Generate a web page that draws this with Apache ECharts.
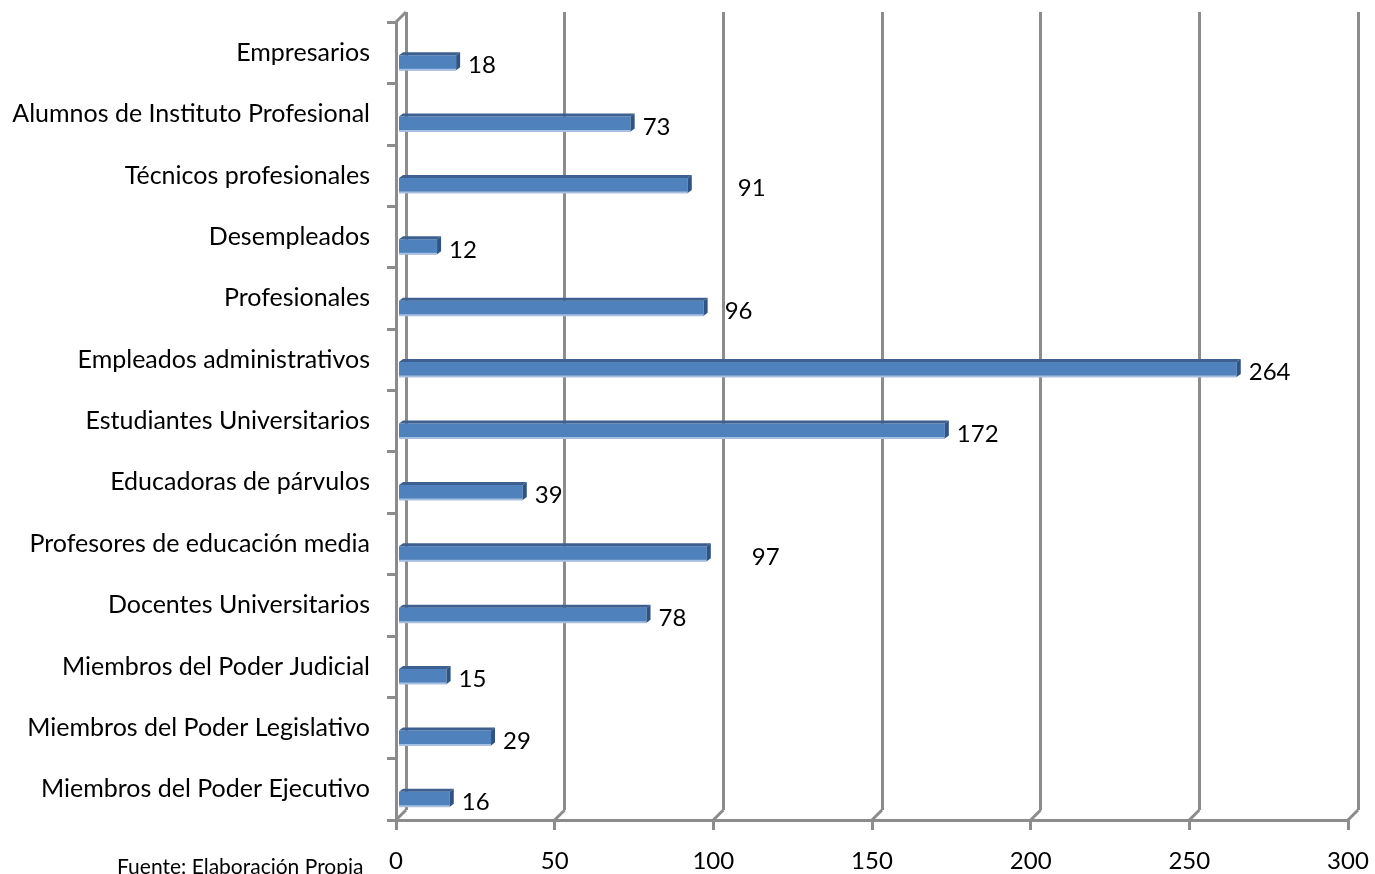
<!DOCTYPE html>
<html>
<head>
<meta charset="utf-8">
<script src="https://cdn.jsdelivr.net/npm/echarts@6/dist/echarts.min.js"></script>
<style>
  html, body { margin: 0; padding: 0; background: #fff; }
  #chart { width: 1375px; height: 874px; }
</style>
</head>
<body>
<div id="chart"></div>
<script>
// Occupational groups, listed top to bottom
const categories = [
  'Empresarios',
  'Alumnos de Instituto Profesional',
  'Técnicos profesionales',
  'Desempleados',
  'Profesionales',
  'Empleados administrativos',
  'Estudiantes Universitarios',
  'Educadoras de párvulos',
  'Profesores de educación media',
  'Docentes Universitarios',
  'Miembros del Poder Judicial',
  'Miembros del Poder Legislativo',
  'Miembros del Poder Ejecutivo'
];
// Number of people in each group
const values = [18, 73, 91, 12, 96, 264, 172, 39, 97, 78, 15, 29, 16];
// Value axis ticks
const axisTicks = [0, 50, 100, 150, 200, 250, 300];
const sourceNote = 'Fuente: Elaboración Propia';

// extra horizontal push for a few value labels that sit further out
const labelNudge = { 2: 38, 4: 9, 8: 33 };

const FONT = 'Lato, "Open Sans", sans-serif';
const GRAY = '#8c8c8c';
const DEPTH_X = 10, DEPTH_Y = 10;

const chart = echarts.init(document.getElementById('chart'), null, { renderer: 'canvas' });

// 3D-look bar: front face, top face, right side face, plus its value label
function renderBar(params, api) {
  const v = api.value(0);
  const idx = api.value(1);
  const p0 = api.coord([0, idx]);
  const p1 = api.coord([v, idx]);
  const cy = p0[1] + 10;          // bars sit a little below the band centre
  const h = 15, d = 4;
  const x0 = p0[0] + 3, x1 = p1[0] + 3;
  const yT = cy - h / 2, yB = cy + h / 2;
  const nudge = labelNudge[idx] || 0;
  return {
    type: 'group',
    children: [
      { type: 'rect', shape: { x: x0, y: yT, width: x1 - x0, height: h },
        style: { fill: '#4f81bd' } },
      { type: 'rect', shape: { x: x0, y: yB - 1.5, width: x1 - x0, height: 2 },
        style: { fill: '#a7bfe0' } },
      { type: 'polygon', shape: { points: [[x0, yT], [x0 + d, yT - d + 1], [x1 + d, yT - d + 1], [x1, yT]] },
        style: { fill: '#3d6090' } },
      { type: 'polygon', shape: { points: [[x1, yT], [x1 + d, yT - d + 1], [x1 + d, yB - d + 1], [x1, yB]] },
        style: { fill: '#2f5385' } },
      { type: 'text', style: {
          text: String(v), x: x1 + d + 8 + nudge, y: cy + 3,
          fill: '#000', fontSize: 24, fontFamily: FONT,
          align: 'left', verticalAlign: 'middle' } }
    ]
  };
}

// floor edges joining front axis ticks to the back wall, plus the top-left wall edge
function renderEdges(params, api) {
  const cs = params.coordSys;
  const v = api.value(0);
  const x = api.coord([v, 0])[0];
  const yb = cs.y + cs.height;
  const children = [
    { type: 'line', shape: { x1: x, y1: yb, x2: x + DEPTH_X, y2: yb - DEPTH_Y },
      style: { stroke: GRAY, lineWidth: 3 } }
  ];
  if (v === 0) {
    children.push({ type: 'line', shape: { x1: x, y1: cs.y, x2: x + DEPTH_X, y2: cs.y - DEPTH_Y },
      style: { stroke: GRAY, lineWidth: 3 } });
  }
  return { type: 'group', children };
}

const frontGrid = { left: 396, right: 27, top: 22, bottom: 54 };
const backGrid = {
  left: frontGrid.left + DEPTH_X, right: frontGrid.right - DEPTH_X,
  top: frontGrid.top - DEPTH_Y, bottom: frontGrid.bottom + DEPTH_Y
};

chart.setOption({
  animation: false,
  backgroundColor: '#ffffff',
  grid: [frontGrid, backGrid],
  xAxis: [
    {
      gridIndex: 0, type: 'value', min: axisTicks[0], max: axisTicks[axisTicks.length - 1],
      interval: axisTicks[1] - axisTicks[0],
      axisLine: { show: true, lineStyle: { color: GRAY, width: 3 } },
      axisTick: { show: true, length: 10, lineStyle: { color: GRAY, width: 3 } },
      axisLabel: { margin: 29, color: '#000', fontSize: 24, fontFamily: FONT },
      splitLine: { show: false }
    },
    {
      gridIndex: 1, type: 'value', min: axisTicks[0], max: axisTicks[axisTicks.length - 1],
      interval: axisTicks[1] - axisTicks[0],
      axisLine: { show: false }, axisTick: { show: false }, axisLabel: { show: false },
      splitLine: { show: true, lineStyle: { color: GRAY, width: 3 } }
    }
  ],
  yAxis: [
    {
      gridIndex: 0, type: 'category', data: categories, inverse: true,
      axisLine: { show: true, lineStyle: { color: GRAY, width: 3 } },
      axisTick: { show: true, length: 9, lineStyle: { color: GRAY, width: 3 } },
      axisLabel: { margin: 26, color: '#000', fontSize: 25, fontFamily: FONT, padding: [9, 0, 0, 0] },
      splitLine: { show: false }
    },
    { gridIndex: 1, type: 'category', data: categories, inverse: true, show: false }
  ],
  series: [
    {
      type: 'custom', xAxisIndex: 0, yAxisIndex: 0,
      data: axisTicks.map(t => [t, 0]),
      renderItem: renderEdges, silent: true, z: 1
    },
    {
      type: 'custom', xAxisIndex: 0, yAxisIndex: 0,
      data: values.map((v, i) => [v, i]),
      encode: { x: 0, y: 1 },
      renderItem: renderBar, z: 3
    }
  ],
  graphic: [
    { type: 'text', left: 117, top: 857,
      style: { text: sourceNote, fill: '#000', fontSize: 21, fontFamily: FONT } }
  ]
});
</script>
</body>
</html>
